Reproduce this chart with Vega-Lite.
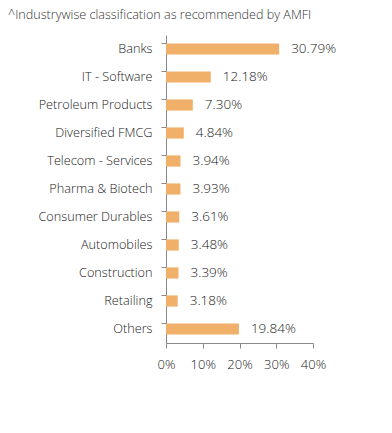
{
  "$schema": "https://vega.github.io/schema/vega-lite/v6.json",
  "autosize": "none",
  "width": 147,
  "height": 308,
  "padding": {"left": 166, "top": 35, "right": 79, "bottom": 90},
  "background": "white",
  "title": {
    "text": "^Industrywise classification as recommended by AMFI",
    "anchor": "start",
    "frame": "group",
    "dx": -158,
    "offset": 13,
    "font": "Open Sans",
    "fontSize": 12.6,
    "fontWeight": 300,
    "color": "#333333"
  },
  "config": {
    "view": {"stroke": null},
    "font": "Open Sans"
  },
  "data": {
    "values": [
      {"sector": "Banks", "pct": 30.79, "label": "30.79%"},
      {"sector": "IT - Software", "pct": 12.18, "label": "12.18%"},
      {"sector": "Petroleum Products", "pct": 7.30, "label": "7.30%"},
      {"sector": "Diversified FMCG", "pct": 4.84, "label": "4.84%"},
      {"sector": "Telecom - Services", "pct": 3.94, "label": "3.94%"},
      {"sector": "Pharma & Biotech", "pct": 3.93, "label": "3.93%"},
      {"sector": "Consumer Durables", "pct": 3.61, "label": "3.61%"},
      {"sector": "Automobiles", "pct": 3.48, "label": "3.48%"},
      {"sector": "Construction", "pct": 3.39, "label": "3.39%"},
      {"sector": "Retailing", "pct": 3.18, "label": "3.18%"},
      {"sector": "Others", "pct": 19.84, "label": "19.84%"}
    ]
  },
  "encoding": {
    "y": {
      "field": "sector",
      "type": "nominal",
      "sort": null,
      "scale": {"paddingInner": 0.6, "paddingOuter": 0.3},
      "axis": {
        "title": null,
        "bandPosition": 0,
        "domainColor": "#888888",
        "tickColor": "#888888",
        "tickSize": 5,
        "labelPadding": 9,
        "labelFontSize": 12.7,
        "labelFont": "Open Sans",
        "labelFontWeight": 300,
        "labelColor": "#222222"
      }
    },
    "x": {
      "field": "pct",
      "type": "quantitative",
      "scale": {"domain": [0, 40]},
      "axis": {
        "title": null,
        "values": [0, 10, 20, 30, 40],
        "labelExpr": "datum.value + '%'",
        "grid": false,
        "domainColor": "#888888",
        "tickColor": "#888888",
        "tickSize": 5,
        "labelPadding": 10,
        "labelFontSize": 13,
        "labelFont": "Open Sans",
        "labelFontWeight": 300,
        "labelColor": "#222222",
        "labelOverlap": false,
        "labelFlush": false
      }
    }
  },
  "layer": [
    {"mark": {"type": "bar", "color": "#F0B06A"}},
    {
      "mark": {"type": "text", "align": "left", "dx": 12, "fontSize": 13.5, "font": "Open Sans", "fontWeight": 300, "color": "#222222"},
      "encoding": {"text": {"field": "label"}}
    }
  ]
}
